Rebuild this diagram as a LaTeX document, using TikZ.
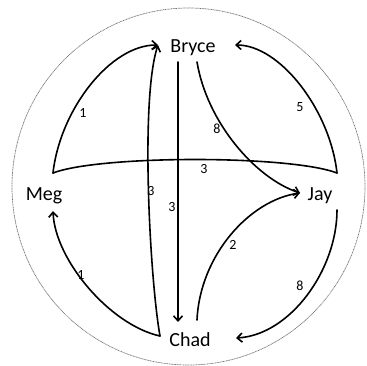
\documentclass[tikz,border=0pt]{standalone}
\usepackage{fontspec}
\setmainfont{Carlito}
\usetikzlibrary{arrows.meta}
\begin{document}
\begin{tikzpicture}[x=1pt,y=-1pt,
  person/.style={font=\fontsize{20}{22}\selectfont, inner sep=0pt},
  wlabel/.style={font=\fontsize{14}{15}\selectfont, inner sep=0pt},
  conn/.style={line width=1.6pt, line cap=round},
  arr/.style={conn, -{Straight Barb[length=5pt,width=9pt,line width=1.6pt]}}]
\useasboundingbox (0,0) rectangle (366,366);
\draw[black!55, line width=0.7pt, dash pattern=on 1pt off 0.6pt] (188.5,186.5) ellipse [x radius=176.5, y radius=178.5];
\node[person] (Bryce) at (193,48) {Bryce};
\node[person] (Meg) at (44,196) {Meg};
\node[person] (Jay) at (320,196) {Jay};
\node[person] (Chad) at (190,340) {Chad};
% connector endpoints anchored to the nodes
\coordinate (mc) at ([shift={(9,-23)}]Meg.center);
\coordinate (mb) at ([shift={(9,15)}]Meg.center);
\coordinate (jc) at ([shift={(17,-23)}]Jay.center);
\coordinate (jb) at ([shift={(17,14)}]Jay.center);
\coordinate (jt) at ([shift={(-20,-3)}]Jay.center);
\coordinate (bl) at ([shift={(-35,-3)}]Bryce.center);
\coordinate (br) at ([shift={(42,-3)}]Bryce.center);
\coordinate (bd) at ([shift={(-15,14)}]Bryce.center);
\coordinate (bdr) at ([shift={(4,14)}]Bryce.center);
\coordinate (cl) at ([shift={(-30,-4)}]Chad.center);
\coordinate (cu) at ([shift={(-12,-18)}]Chad.center);
\coordinate (cur) at ([shift={(7,-20)}]Chad.center);
\coordinate (cr) at ([shift={(46,-2)}]Chad.center);
% Meg -> Bryce (1)
\draw[arr] (mc) .. controls (60,110) and (110,45) .. (bl);
% Jay -> Bryce (5)
\draw[arr] (jc) .. controls (330,110) and (280,45) .. (br);
% Meg -- Jay (3)
\draw[conn] (mc) .. controls (100,155) and (290,155) .. (jc);
% Chad -> Bryce (3)
\draw[arr] (cl) .. controls (150,280) and (140,100) .. (bl);
% Chad -> Meg (1)
\draw[arr] (cl) .. controls (110,325) and (55,260) .. (mb);
% Bryce -> Chad (3)
\draw[arr] (bd) -- (cu);
% Bryce -> Jay (8)
\draw[arr] (bdr) .. controls (207,122) and (255,178) .. (jt);
% Chad -> Jay (2)
\draw[arr] (cur) .. controls (200,255) and (250,200) .. (jt);
% Jay -> Chad (8)
\draw[arr] (jb) .. controls (337,270) and (290,335) .. (cr);
% weights
\node[wlabel] (w1) at (83,113) {1};
\node[wlabel] (w5) at (300,107) {5};
\node[wlabel] (w8a) at (217,129) {8};
\node[wlabel] (w3a) at (204,169) {3};
\node[wlabel] (w3b) at (151,191) {3};
\node[wlabel] (w3c) at (172,207) {3};
\node[wlabel] (w2) at (233,245) {2};
\node[wlabel] (w1b) at (81,275) {1};
\node[wlabel] (w8b) at (300,286) {8};
\end{tikzpicture}
\end{document}
